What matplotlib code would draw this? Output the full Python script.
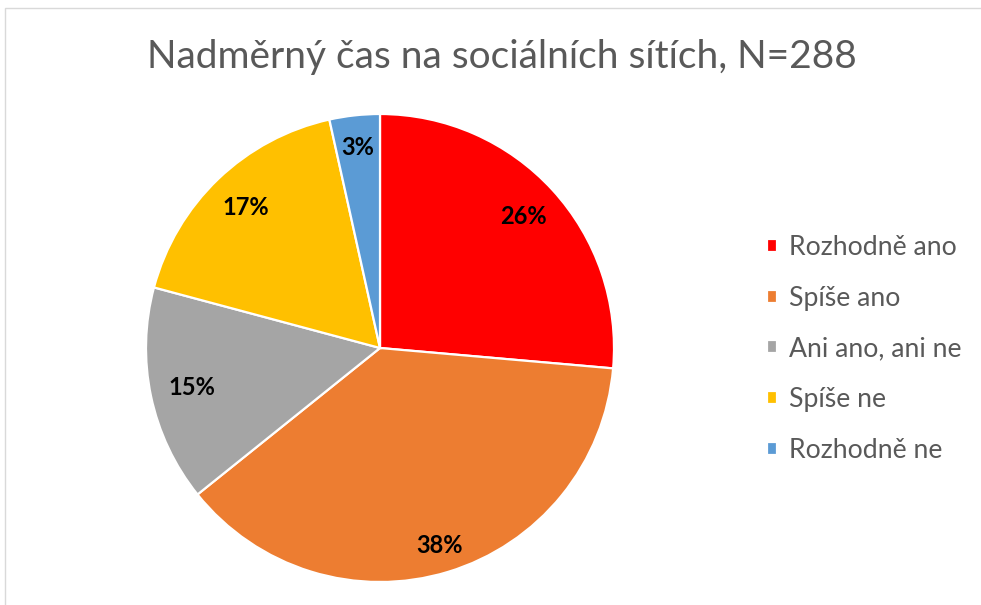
import matplotlib.pyplot as plt
from matplotlib.patches import Rectangle

categories = ["Rozhodně ano", "Spíše ano", "Ani ano, ani ne", "Spíše ne", "Rozhodně ne"]
counts = [76, 109, 43, 50, 10]
colors = ["#FF0000", "#ED7D31", "#A5A5A5", "#FFC000", "#5B9BD5"]
title = "Nadměrný čas na sociálních sítích, N=288"

plt.rcParams["font.family"] = ["Lato", "DejaVu Sans"]

fig = plt.figure(figsize=(9.81, 6.05), dpi=100)
W, H = 981, 605

# light chart-area border
fig.patches.append(Rectangle((5 / W, -0.1), 1.2, (H - 8) / H + 0.1,
                             transform=fig.transFigure, fill=False,
                             edgecolor="#D9D9D9", linewidth=1.0))

cx, cy, r = 380, 348, 234
ax = fig.add_axes([(cx - r) / W, (H - cy - r) / H, 2 * r / W, 2 * r / H])

wedges, texts, autotexts = ax.pie(
    counts, colors=colors, startangle=90, counterclock=False,
    autopct=lambda p: f"{p:.0f}%", pctdistance=0.85,
    wedgeprops=dict(edgecolor="white", linewidth=1.6),
    textprops=dict(fontsize=17, fontweight="bold", color="black"))
ax.set_xlim(-1, 1)
ax.set_ylim(-1, 1)
ax.set_aspect("equal")

# nudge label distances to match the reference
dist = [0.83, 0.88, 0.82, 0.83, 0.86]
for t, d in zip(autotexts, dist):
    x, y = t.get_position()
    k = d / 0.85
    t.set_position((x * k, y * k))

fig.text(502 / W, 1 - 57 / H, title, ha="center", va="center",
         fontsize=28, color="#595959")

leg = fig.legend(wedges, categories, loc="center left",
                 bbox_to_anchor=(743 / W, 1 - 349 / H), frameon=False,
                 fontsize=19.2, labelcolor="#595959", handlelength=0.37,
                 handleheight=0.37, handletextpad=0.45, labelspacing=0.96)

fig.savefig("out.png", dpi=100)
